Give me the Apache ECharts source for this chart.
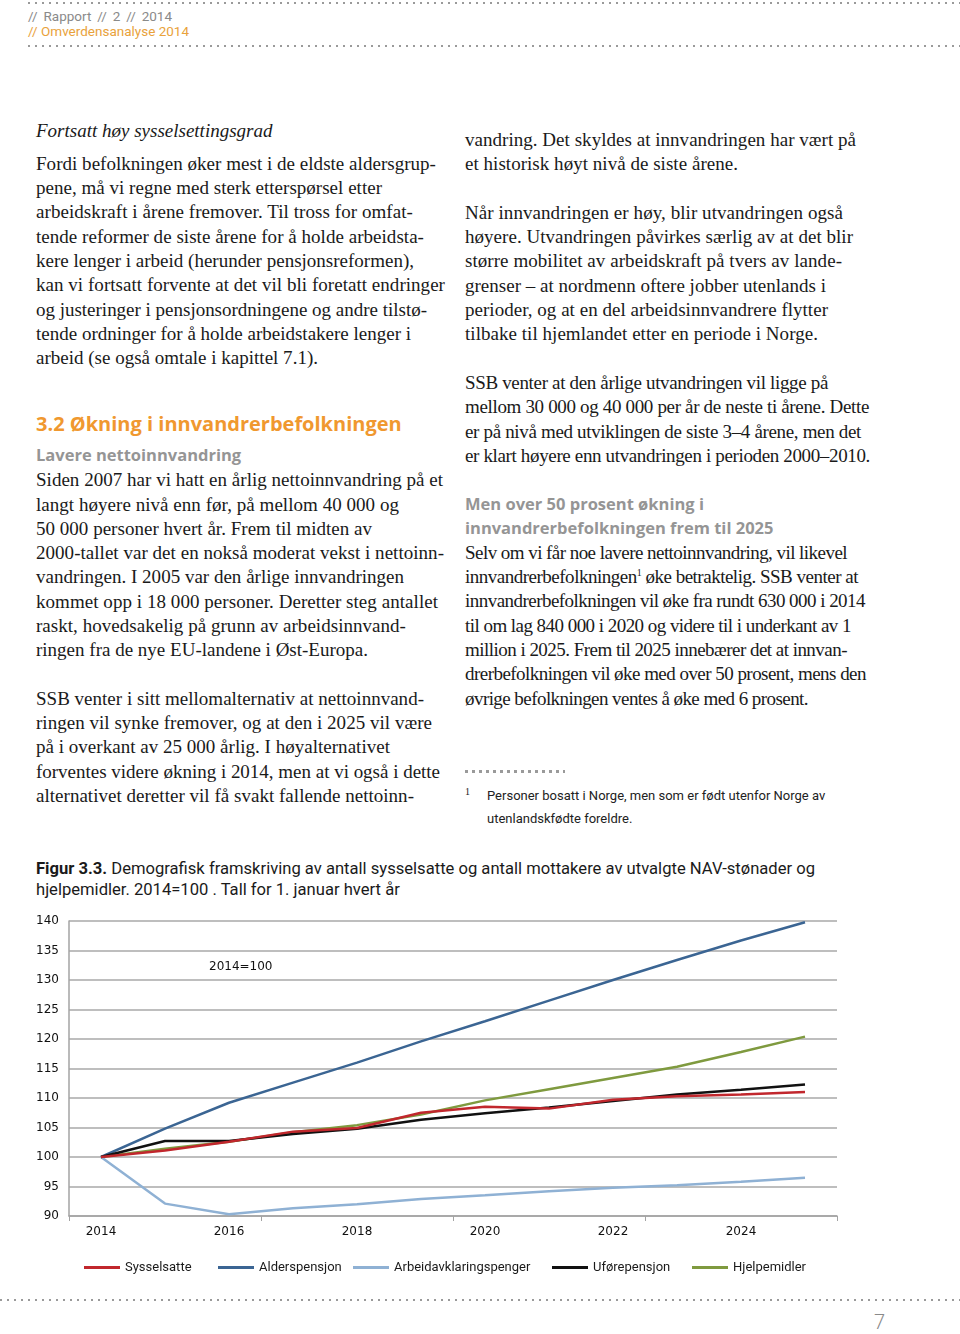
<!DOCTYPE html>
<html>
<head>
<meta charset="utf-8">
<script src="https://cdn.jsdelivr.net/npm/echarts/dist/echarts.min.js"></script>
<style>
html,body{margin:0;padding:0;background:#fff;}
body{width:960px;height:1334px;position:relative;overflow:hidden;}
.l{position:absolute;white-space:nowrap;font-family:"Liberation Serif","Times New Roman",serif;font-size:19px;line-height:24px;color:#1a1a1a;}
.s{position:absolute;white-space:nowrap;font-family:Roboto,"Noto Sans",sans-serif;}
.dots{position:absolute;height:2px;background-image:repeating-linear-gradient(to right,#9a9a9a 0 2px,transparent 2px 7px);}
.h2{position:absolute;white-space:nowrap;font-family:"Open Sans",sans-serif;font-weight:700;}
#chart{position:absolute;left:0;top:900px;width:960px;height:400px;}
</style>
</head>
<body>
<div class="dots" style="left:28px;top:2px;width:932px;"></div>
<div class="s" style="left:28px;top:7px;font-size:13.5px;line-height:18px;color:#8a8a8a;word-spacing:2.5px;">// Rapport // 2 // 2014</div>
<div class="s" style="left:28px;top:22px;font-size:13.5px;line-height:18px;color:#e9a23b;">// Omverdensanalyse 2014</div>
<div class="dots" style="left:28px;top:45px;width:932px;"></div>

<!-- left column -->
<div class="l" style="left:36px;top:119px;font-style:italic;">Fortsatt høy sysselsettingsgrad</div>
<div class="l" data-r="436" style="left:36px;top:152px;">Fordi befolkningen øker mest i de eldste aldersgrup-</div>
<div class="l" data-r="382" style="left:36px;top:176px;">pene, må vi regne med sterk etterspørsel etter</div>
<div class="l" data-r="413" style="left:36px;top:200px;">arbeidskraft i årene fremover. Til tross for omfat-</div>
<div class="l" data-r="424" style="left:36px;top:225px;">tende reformer de siste årene for å holde arbeidsta-</div>
<div class="l" data-r="414" style="left:36px;top:249px;">kere lenger i arbeid (herunder pensjonsreformen),</div>
<div class="l" data-r="445" style="left:36px;top:273px;">kan vi fortsatt forvente at det vil bli foretatt endringer</div>
<div class="l" data-r="427" style="left:36px;top:298px;">og justeringer i pensjonsordningene og andre tilstø-</div>
<div class="l" data-r="411" style="left:36px;top:322px;">tende ordninger for å holde arbeidstakere lenger i</div>
<div class="l" data-r="318" style="left:36px;top:346px;">arbeid (se også omtale i kapittel 7.1).</div>

<div class="h2" style="left:36px;top:410px;font-size:20px;line-height:28px;color:#f0982f;">3.2 Økning i innvandrerbefolkningen</div>
<div class="h2" style="left:36px;top:443px;font-size:16.5px;line-height:24px;color:#959595;">Lavere nettoinnvandring</div>
<div class="l" data-r="443" style="left:36px;top:468px;">Siden 2007 har vi hatt en årlig nettoinnvandring på et</div>
<div class="l" data-r="399" style="left:36px;top:493px;">langt høyere nivå enn før, på mellom 40 000 og</div>
<div class="l" data-r="372" style="left:36px;top:517px;">50 000 personer hvert år. Frem til midten av</div>
<div class="l" data-r="444" style="left:36px;top:541px;">2000-tallet var det en nokså moderat vekst i nettoinn-</div>
<div class="l" data-r="404" style="left:36px;top:565px;">vandringen. I 2005 var den årlige innvandringen</div>
<div class="l" data-r="438" style="left:36px;top:590px;">kommet opp i 18 000 personer. Deretter steg antallet</div>
<div class="l" data-r="406" style="left:36px;top:614px;">raskt, hovedsakelig på grunn av arbeidsinnvand-</div>
<div class="l" data-r="368" style="left:36px;top:638px;">ringen fra de nye EU-landene i Øst-Europa.</div>

<div class="l" data-r="424" style="left:36px;top:687px;">SSB venter i sitt mellomalternativ at nettoinnvand-</div>
<div class="l" data-r="432" style="left:36px;top:711px;">ringen vil synke fremover, og at den i 2025 vil være</div>
<div class="l" data-r="390" style="left:36px;top:735px;">på i overkant av 25 000 årlig. I høyalternativet</div>
<div class="l" data-r="440" style="left:36px;top:760px;">forventes videre økning i 2014, men at vi også i dette</div>
<div class="l" data-r="414" style="left:36px;top:784px;">alternativet deretter vil få svakt fallende nettoinn-</div>

<!-- right column -->
<div class="l" data-r="856" style="left:465px;top:128px;">vandring. Det skyldes at innvandringen har vært på</div>
<div class="l" data-r="738" style="left:465px;top:152px;">et historisk høyt nivå de siste årene.</div>

<div class="l" data-r="843" style="left:465px;top:201px;">Når innvandringen er høy, blir utvandringen også</div>
<div class="l" data-r="853" style="left:465px;top:225px;">høyere. Utvandringen påvirkes særlig av at det blir</div>
<div class="l" data-r="842" style="left:465px;top:249px;">større mobilitet av arbeidskraft på tvers av lande-</div>
<div class="l" data-r="826" style="left:465px;top:274px;">grenser – at nordmenn oftere jobber utenlands i</div>
<div class="l" data-r="828" style="left:465px;top:298px;">perioder, og at en del arbeidsinnvandrere flytter</div>
<div class="l" data-r="818" style="left:465px;top:322px;">tilbake til hjemlandet etter en periode i Norge.</div>

<div class="l" data-r="828" style="left:465px;top:371px;">SSB venter at den årlige utvandringen vil ligge på</div>
<div class="l" data-r="869" style="left:465px;top:395px;">mellom 30 000 og 40 000 per år de neste ti årene. Dette</div>
<div class="l" data-r="861" style="left:465px;top:420px;">er på nivå med utviklingen de siste 3–4 årene, men det</div>
<div class="l" data-r="870" style="left:465px;top:444px;">er klart høyere enn utvandringen i perioden 2000–2010.</div>

<div class="h2" style="left:465px;top:492px;font-size:16.5px;line-height:24px;color:#959595;">Men over 50 prosent økning i</div>
<div class="h2" style="left:465px;top:516px;font-size:16.5px;line-height:24px;color:#959595;">innvandrerbefolkningen frem til 2025</div>
<div class="l" data-r="847" style="left:465px;top:541px;">Selv om vi får noe lavere nettoinnvandring, vil likevel</div>
<div class="l" data-r="858" style="left:465px;top:565px;">innvandrerbefolkningen<sup style="font-size:10px;line-height:0;">1</sup> øke betraktelig. SSB venter at</div>
<div class="l" data-r="865" style="left:465px;top:589px;">innvandrerbefolkningen vil øke fra rundt 630 000 i 2014</div>
<div class="l" data-r="851" style="left:465px;top:614px;">til om lag 840 000 i 2020 og videre til i underkant av 1</div>
<div class="l" data-r="847" style="left:465px;top:638px;">million i 2025. Frem til 2025 innebærer det at innvan-</div>
<div class="l" data-r="866" style="left:465px;top:662px;">drerbefolkningen vil øke med over 50 prosent, mens den</div>
<div class="l" data-r="808" style="left:465px;top:687px;">øvrige befolkningen ventes å øke med 6 prosent.</div>

<div class="dots" style="left:465px;top:770px;width:100px;height:3px;background-image:repeating-linear-gradient(to right,#9a9a9a 0 3px,transparent 3px 7px);"></div>
<div class="l" style="left:465px;top:784px;font-size:10px;line-height:16px;">1</div>
<div class="s" style="left:487px;top:787px;font-size:13px;line-height:18px;color:#222;">Personer bosatt i Norge, men som er født utenfor Norge av</div>
<div class="s" style="left:487px;top:810px;font-size:13px;line-height:18px;color:#222;">utenlandskfødte foreldre.</div>

<!-- figure caption -->
<div class="s" style="left:36px;top:859px;font-size:16.6px;line-height:20px;color:#1a1a1a;"><b>Figur 3.3.</b> Demografisk framskriving av antall sysselsatte og antall mottakere av utvalgte NAV-stønader og</div>
<div class="s" style="left:36px;top:880px;font-size:16.6px;line-height:20px;color:#1a1a1a;">hjelpemidler. 2014=100 . Tall for 1. januar hvert år</div>

<div id="chart"></div>

<div class="dots" style="left:0px;top:1299px;width:960px;"></div>
<div class="s" style="left:874px;top:1310px;font-size:20px;line-height:24px;color:#8a8a8a;font-weight:300;">7</div>

<script>
// fit each body line to the width it has in the reference
Array.prototype.forEach.call(document.querySelectorAll('.l[data-r]'), function(el){
  var target = parseFloat(el.getAttribute('data-r')) - el.offsetLeft;
  var w = el.getBoundingClientRect().width;
  var n = el.textContent.length;
  if (n > 1) el.style.letterSpacing = ((target - w) / n).toFixed(3) + 'px';
});

var years = ['2014','2015','2016','2017','2018','2019','2020','2021','2022','2023','2024','2025'];
var sysselsatte = [100, 101.1, 102.6, 104.3, 104.9, 107.5, 108.5, 108.2, 109.7, 110.3, 110.6, 111.0];
var alderspensjon = [100, 104.8, 109.2, 112.6, 116.0, 119.6, 123.0, 126.5, 130.0, 133.4, 136.7, 139.8];
var arbeidsavklaring = [100, 92.1, 90.3, 91.3, 92.0, 92.9, 93.5, 94.2, 94.8, 95.2, 95.8, 96.5];
var uforepensjon = [100, 102.7, 102.7, 103.9, 104.8, 106.3, 107.4, 108.4, 109.5, 110.6, 111.4, 112.3];
var hjelpemidler = [100, 101.4, 102.6, 104.2, 105.4, 107.2, 109.6, 111.5, 113.4, 115.3, 117.8, 120.4];
var seriesNames = ['Sysselsatte','Alderspensjon','Arbeidavklaringspenger','Uførepensjon','Hjelpemidler'];
var seriesColors = ['#c1272d','#3b6593','#8fb1d4','#111111','#7f9a3f'];
var yMin = 90, yMax = 140, yStep = 5;
var note = '2014=100';

var chart = echarts.init(document.getElementById('chart'), null, {renderer:'canvas'});
var dataSets = [sysselsatte, alderspensjon, arbeidsavklaring, uforepensjon, hjelpemidler];
var zOrder = [7, 4, 3, 5, 2];
var legendLeft = [84, 218, 353, 552, 692];
var series = seriesNames.map(function(n,i){
  return {name:n,type:'line',data:dataSets[i],showSymbol:false,symbol:'none',smooth:false,z:zOrder[i],
    lineStyle:{color:seriesColors[i],width:2.5},itemStyle:{color:seriesColors[i]}};
});
var legends = seriesNames.map(function(n,i){
  return {data:[n],left:legendLeft[i],top:361,padding:0,icon:'rect',itemWidth:36,itemHeight:3,itemGap:0,
    textStyle:{fontFamily:'Roboto',fontSize:13,color:'#1a1a1a'},selectedMode:false};
});
chart.setOption({
  animation:false,
  backgroundColor:'#fff',
  grid:{left:69,right:123,top:21,bottom:84},
  legend:legends,
  xAxis:{type:'category',data:years,boundaryGap:true,
    axisLine:{show:true,lineStyle:{color:'#a3a3a3',width:1.5}},
    axisTick:{show:true,interval:2,length:5,lineStyle:{color:'#a3a3a3',width:1}},
    axisLabel:{interval:1,margin:10,fontFamily:'DejaVu Sans',fontSize:12,color:'#111'},
    splitLine:{show:false}},
  yAxis:{type:'value',min:yMin,max:yMax,interval:yStep,
    axisLine:{show:true,lineStyle:{color:'#a3a3a3',width:1.5}},
    axisTick:{show:false},
    axisLabel:{margin:10,fontFamily:'DejaVu Sans',fontSize:12,color:'#111'},
    splitLine:{show:true,lineStyle:{color:'#a8a8a8',width:1.5}}},
  graphic:[{type:'text',left:209,top:61,style:{text:note,fontFamily:'DejaVu Sans',fontSize:12,fill:'#111'}}],
  series:series
});
</script>
</body>
</html>
